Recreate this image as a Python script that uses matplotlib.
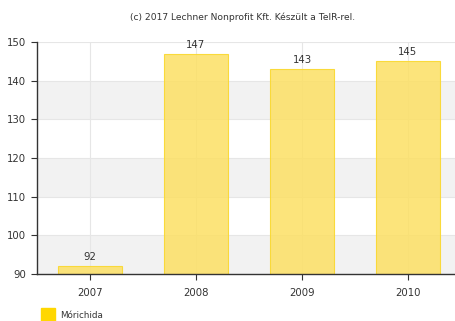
import matplotlib.pyplot as plt
from matplotlib.patches import Rectangle

years = ["2007", "2008", "2009", "2010"]
values = [92, 147, 143, 145]
series_name = "Mórichida"
credit = "(c) 2017 Lechner Nonprofit Kft. Készült a TeIR-rel."
y_ticks = [90, 100, 110, 120, 130, 140, 150]

fig = plt.figure(figsize=(4.56, 3.21), dpi=100)
ax = fig.add_axes([37 / 456, 1 - 274 / 321, 1 - 37 / 456, (274 - 42) / 321])

# alternating horizontal bands
for lo in (90, 110, 130):
    ax.axhspan(lo, lo + 10, color="#f2f2f2", zorder=0, lw=0)
for y in y_ticks:
    ax.axhline(y, color="#e6e6e6", lw=0.8, zorder=0.5)

x = range(len(years))
for xi in x:
    ax.axvline(xi, color="#e6e6e6", lw=0.8, zorder=0.5)

# slightly translucent bars, grid shows through faintly
ax.bar(x, [v - 90 for v in values], bottom=90, width=0.61,
       color=(252 / 255, 224 / 255, 100 / 255, 0.85),
       edgecolor=(0.98, 0.85, 0.2, 0.95), lw=0.8, zorder=2)
for xi, v in zip(x, values):
    ax.text(xi, v + 1.0, str(v), ha="center", va="bottom", fontsize=7.3,
            color="#333333", zorder=3)

ax.set_xlim(-0.5, 3.5 - 5 / 106)
ax.set_ylim(90, 150)
ax.set_yticks(y_ticks)
ax.set_xticks(list(x))
ax.set_xticklabels(years)
ax.tick_params(axis="both", labelsize=7.3, colors="#333333", length=4, width=0.8)
ax.tick_params(axis="x", pad=6)
ax.tick_params(axis="y", pad=4)

for side in ("top", "right"):
    ax.spines[side].set_visible(False)
ax.spines["left"].set_color("#333333")
ax.spines["bottom"].set_color("#333333")
ax.spines["left"].set_linewidth(1)
ax.spines["bottom"].set_linewidth(1)

fig.text(243 / 456, 1 - 17 / 321, credit, ha="center", va="center",
         fontsize=6.6, color="#333333")

fig.patches.append(Rectangle((41 / 456, 0), 14 / 456, 13 / 321,
                             transform=fig.transFigure, color="#ffd700",
                             figure=fig))
fig.text(60 / 456, 1 - 315 / 321, series_name, ha="left", va="center",
         fontsize=6.3, color="#333333")

fig.savefig("out.png", dpi=100)
